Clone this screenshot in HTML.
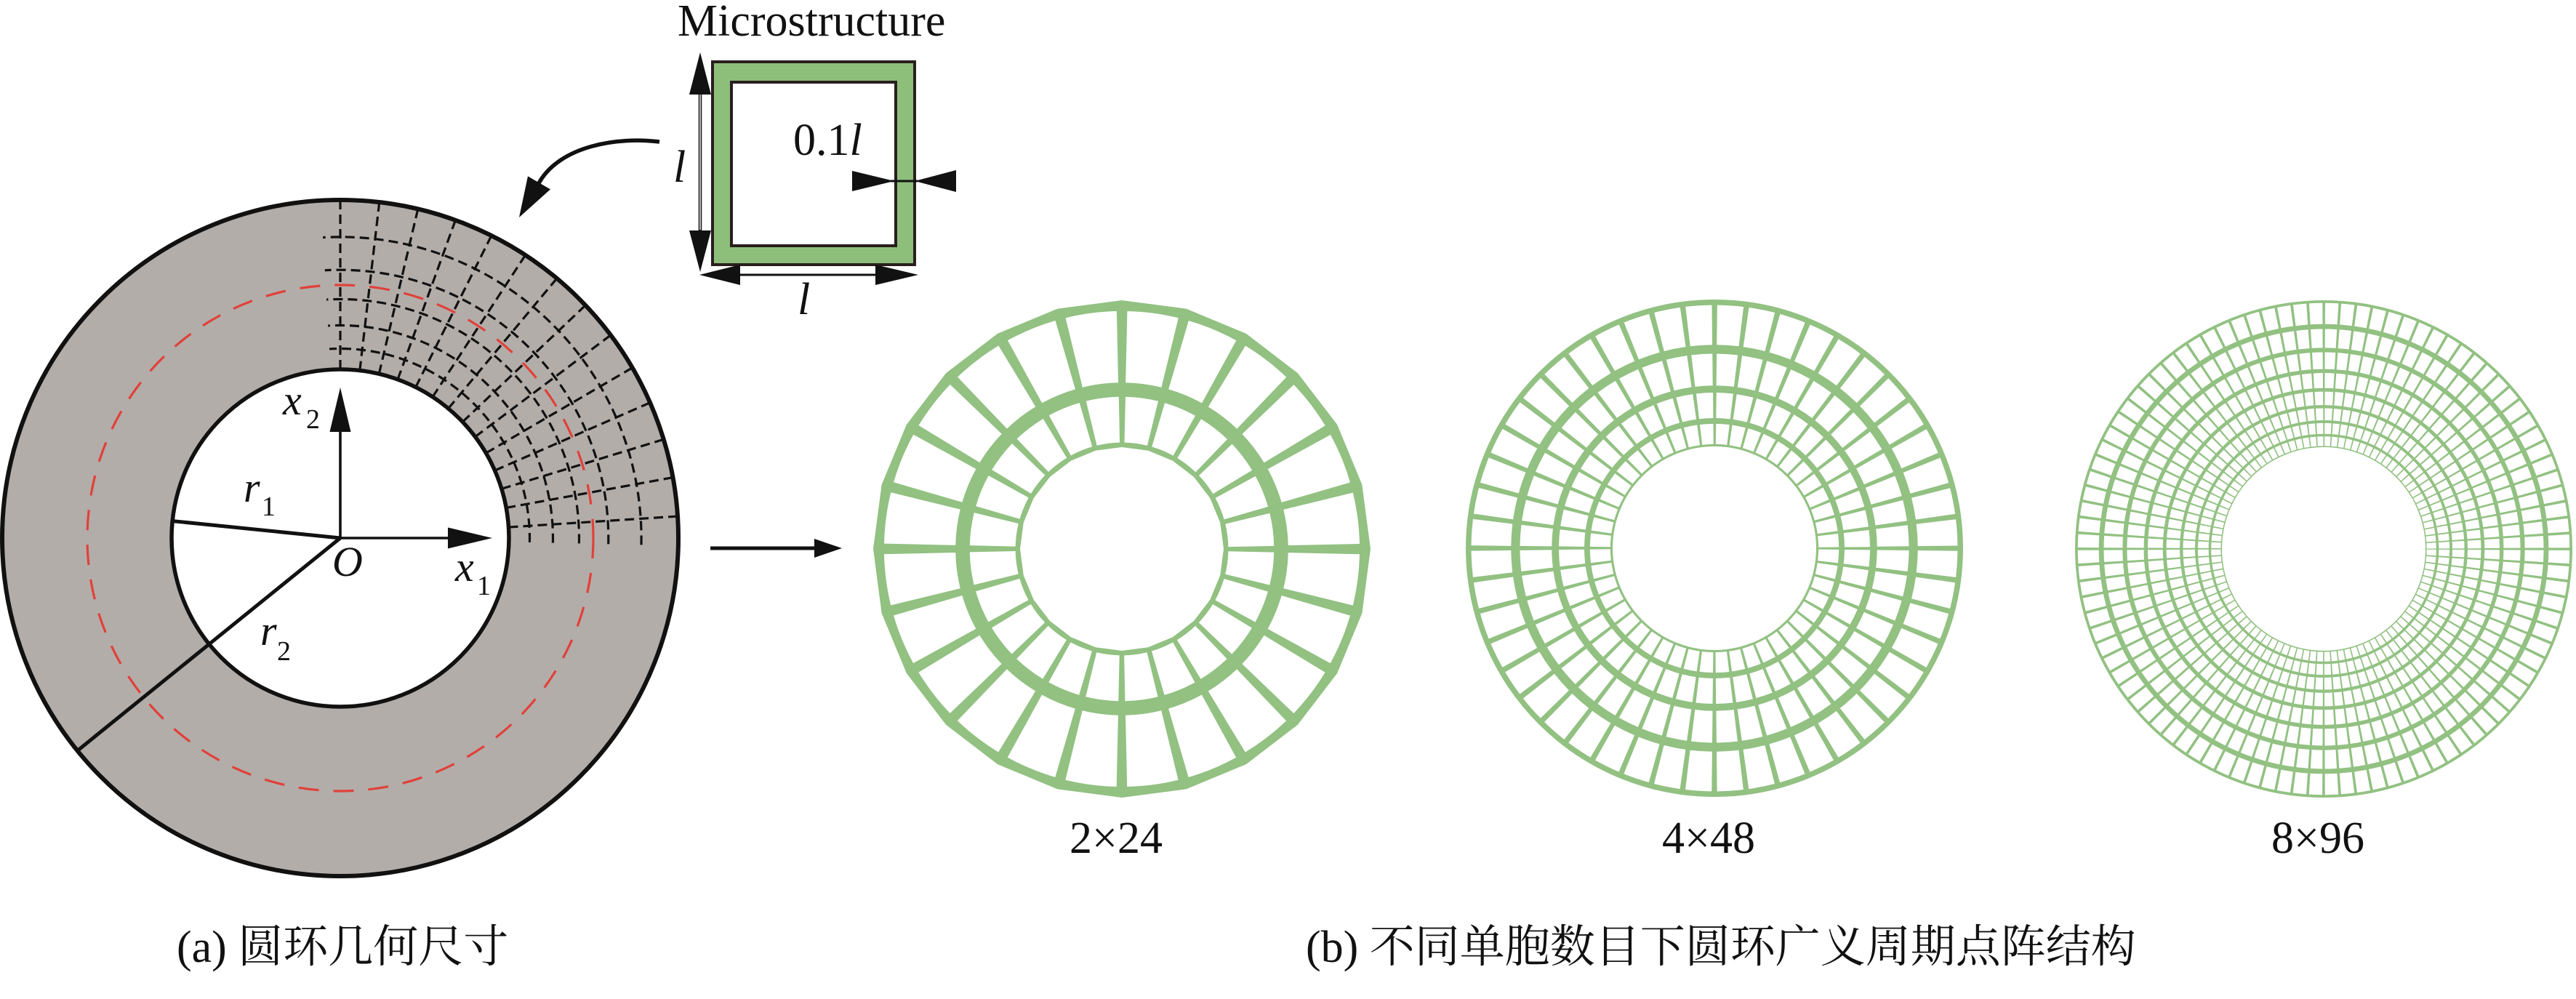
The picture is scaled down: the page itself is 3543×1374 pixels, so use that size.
<!DOCTYPE html>
<html>
<head>
<meta charset="utf-8">
<style>
html,body{margin:0;padding:0;background:#fff;}
svg{display:block;}
.t{font-family:"Liberation Serif","Noto Serif CJK SC",serif;fill:#111;}
.i{font-family:"Liberation Serif",serif;font-style:italic;fill:#111;}
</style>
</head>
<body>
<svg xmlns="http://www.w3.org/2000/svg" width="3543" height="1374" viewBox="0 0 3543 1374">
<rect width="3543" height="1374" fill="#fff"/>

<!-- ===== (a) annulus ===== -->
<circle cx="468" cy="740" r="465" fill="#b3ada9"/>
<circle cx="468" cy="740" r="232" fill="#fff"/>

<!-- dashed log-polar grid -->
<g fill="none" stroke="#111" stroke-width="3.2" stroke-dasharray="13 7">
<path d="M728.43 745.91 A260.5 260.5 0 0 0 453.00 479.93"/>
<path d="M760.42 746.64 A292.5 292.5 0 0 0 451.16 447.98"/>
<path d="M796.42 747.45 A328.5 328.5 0 0 0 449.09 412.04"/>
<path d="M836.71 748.37 A368.8 368.8 0 0 0 446.77 371.81"/>
<path d="M881.99 749.40 A414.1 414.1 0 0 0 444.16 326.59"/>
<path d="M468 508 L468 275"/>
<path d="M494.83 509.56 L521.77 278.12"/>
<path d="M521.29 514.20 L574.81 287.43"/>
<path d="M547.04 521.88 L626.41 302.82"/>
<path d="M571.74 532.48 L675.92 324.07"/>
<path d="M595.04 545.87 L722.62 350.91"/>
<path d="M616.61 561.85 L765.87 382.93"/>
<path d="M636.26 580.27 L805.24 419.85"/>
<path d="M653.57 600.75 L839.93 460.91"/>
<path d="M668.42 623.15 L869.71 505.79"/>
<path d="M680.59 647.10 L894.10 553.80"/>
<path d="M689.91 672.31 L912.77 604.34"/>
<path d="M696.24 698.43 L925.47 656.67"/>
<path d="M699.52 725.09 L932.04 710.12"/>
</g>

<!-- red dashed circle -->
<circle cx="468" cy="740" r="348" fill="none" stroke="#e0413a" stroke-width="3.2" stroke-dasharray="28 20"/>

<!-- circle outlines -->
<circle cx="468" cy="740" r="465" fill="none" stroke="#111" stroke-width="6"/>
<circle cx="468" cy="740" r="232" fill="none" stroke="#111" stroke-width="5.5"/>

<!-- radii -->
<line x1="468" y1="740" x2="237.2" y2="716.6" stroke="#111" stroke-width="5"/>
<line x1="468" y1="740" x2="106.6" y2="1032.4" stroke="#111" stroke-width="5"/>

<!-- axes -->
<line x1="468" y1="740" x2="468" y2="590" stroke="#111" stroke-width="3.6"/>
<polygon points="468,533 453.5,594 482.5,594" fill="#111"/>
<line x1="468" y1="740" x2="620" y2="740" stroke="#111" stroke-width="3.6"/>
<polygon points="677,740 616,725.5 616,754.5" fill="#111"/>

<!-- labels (a) -->
<text class="i" font-family="Liberation Serif, serif" font-style="italic" x="389" y="570" font-size="58">x</text>
<text class="t" font-family="Liberation Serif, serif" x="421" y="589" font-size="38">2</text>
<text class="i" font-family="Liberation Serif, serif" font-style="italic" x="335" y="690" font-size="58">r</text>
<text class="t" font-family="Liberation Serif, serif" x="360" y="709" font-size="38">1</text>
<text class="i" font-family="Liberation Serif, serif" font-style="italic" x="358" y="887" font-size="58">r</text>
<text class="t" font-family="Liberation Serif, serif" x="381" y="908" font-size="38">2</text>
<text class="i" font-family="Liberation Serif, serif" font-style="italic" x="457" y="792" font-size="58">O</text>
<text class="i" font-family="Liberation Serif, serif" font-style="italic" x="626" y="799" font-size="58">x</text>
<text class="t" font-family="Liberation Serif, serif" x="656" y="818" font-size="38">1</text>

<!-- curved arrow -->
<path d="M907 195 C850 188, 770 200, 741 252" fill="none" stroke="#111" stroke-width="5.5"/>
<polygon points="714,299 726,242.4 757,260.4" fill="#111"/>

<!-- ===== Microstructure ===== -->
<text class="t" font-family="Liberation Serif, serif" x="932" y="49" font-size="62">Microstructure</text>
<rect x="980" y="85" width="278" height="279" fill="#8dbf7a" stroke="#2a1e1e" stroke-width="4"/>
<rect x="1006" y="113" width="226" height="225" fill="#fff" stroke="#2a1e1e" stroke-width="4"/>

<!-- vertical dimension -->
<line x1="963" y1="120" x2="963" y2="325" stroke="#111" stroke-width="4.5"/>
<line x1="963" y1="130" x2="963" y2="316" stroke="#fff" stroke-width="1.4"/>
<polygon points="963,72 948,130 978,130" fill="#111"/>
<polygon points="963,374 948,317 978,317" fill="#111"/>
<text class="i" font-family="Liberation Serif, serif" font-style="italic" x="926" y="250" font-size="62">l</text>

<!-- horizontal dimension -->
<line x1="1010" y1="378" x2="1212" y2="378" stroke="#111" stroke-width="3"/>
<polygon points="962,378 1018,364 1018,392" fill="#111"/>
<polygon points="1263,378 1204,364 1204,392" fill="#111"/>
<text class="i" font-family="Liberation Serif, serif" font-style="italic" x="1097" y="432" font-size="62">l</text>

<!-- 0.1l -->
<text x="1091" y="213" font-size="62" font-family="Liberation Serif, serif" fill="#111"><tspan>0.1</tspan><tspan font-style="italic">l</tspan></text>
<line x1="1225" y1="249" x2="1262" y2="249" stroke="#111" stroke-width="3"/>
<polygon points="1230,249 1172,235 1172,263" fill="#111"/>
<polygon points="1258,249 1315,234 1315,264" fill="#111"/>

<!-- arrow between panels -->
<line x1="977" y1="754" x2="1125" y2="754" stroke="#111" stroke-width="5"/>
<polygon points="1158,754 1120,741 1120,767" fill="#111"/>

<!-- ===== (b) lattices ===== -->
<!-- 2x24 -->
<g transform="translate(1543 755)">
<path fill="#92c182" fill-rule="evenodd" d="M342 0 L330.35 88.52 L296.18 171 L241.83 241.83 L171 296.18 L88.52 330.35 L0 342 L-88.52 330.35 L-171 296.18 L-241.83 241.83 L-296.18 171 L-330.35 88.52 L-342 0 L-330.35 -88.52 L-296.18 -171 L-241.83 -241.83 L-171 -296.18 L-88.52 -330.35 L0 -342 L88.52 -330.35 L171 -296.18 L241.83 -241.83 L296.18 -171 L330.35 -88.52 Z M140 0 L135.23 36.23 L121.24 70 L98.99 98.99 L70 121.24 L36.23 135.23 L0 140 L-36.23 135.23 L-70 121.24 L-98.99 98.99 L-121.24 70 L-135.23 36.23 L-140 0 L-135.23 -36.23 L-121.24 -70 L-98.99 -98.99 L-70 -121.24 L-36.23 -135.23 L0 -140 L36.23 -135.23 L70 -121.24 L98.99 -98.99 L121.24 -70 L135.23 -36.23 Z"/>
<g fill="none" stroke="#fff">
<circle cx="0" cy="0" r="177.827" stroke-width="62.865" stroke-dasharray="38.641 7.914" stroke-dashoffset="42.598"/>
<circle cx="0" cy="0" r="277.937" stroke-width="98.253" stroke-dasharray="60.394 12.370" stroke-dashoffset="66.579"/>
</g>
</g>

<!-- 4x48 -->
<g transform="translate(2358 754)">
<circle cx="0" cy="0" r="241" fill="none" stroke="#92c182" stroke-width="202"/>
<g fill="none" stroke="#fff">
<circle cx="0" cy="0" r="157.161" stroke-width="28.000" stroke-dasharray="17.0750 3.4973" stroke-dashoffset="18.8237"/>
<circle cx="0" cy="0" r="196.481" stroke-width="35.005" stroke-dasharray="21.3470 4.3723" stroke-dashoffset="23.5332"/>
<circle cx="0" cy="0" r="245.638" stroke-width="43.763" stroke-dasharray="26.6878 5.4662" stroke-dashoffset="29.4209"/>
<circle cx="0" cy="0" r="307.093" stroke-width="54.711" stroke-dasharray="33.3647 6.8337" stroke-dashoffset="36.7815"/>
</g>
</g>

<!-- 8x96 -->
<g transform="translate(3196 755)">
<circle cx="0" cy="0" r="241" fill="none" stroke="#92c182" stroke-width="202"/>
<g fill="none" stroke="#fff">
<circle cx="0" cy="0" r="148.186" stroke-width="13.227" stroke-dasharray="8.0500 1.6488" stroke-dashoffset="8.8743"/>
<circle cx="0" cy="0" r="165.689" stroke-width="14.789" stroke-dasharray="9.0008 1.8435" stroke-dashoffset="9.9226"/>
<circle cx="0" cy="0" r="185.259" stroke-width="16.536" stroke-dasharray="10.0639 2.0613" stroke-dashoffset="11.0945"/>
<circle cx="0" cy="0" r="207.142" stroke-width="18.489" stroke-dasharray="11.2526 2.3048" stroke-dashoffset="12.4050"/>
<circle cx="0" cy="0" r="231.608" stroke-width="20.672" stroke-dasharray="12.5817 2.5770" stroke-dashoffset="13.8702"/>
<circle cx="0" cy="0" r="258.965" stroke-width="23.116" stroke-dasharray="14.0678 2.8814" stroke-dashoffset="15.5085"/>
<circle cx="0" cy="0" r="289.554" stroke-width="25.845" stroke-dasharray="15.7295 3.2217" stroke-dashoffset="17.3404"/>
<circle cx="0" cy="0" r="323.755" stroke-width="28.896" stroke-dasharray="17.5875 3.6022" stroke-dashoffset="19.3886"/>
</g>
</g>

<!-- lattice labels -->
<text class="t" font-family="Liberation Serif, serif" x="1535" y="1173" font-size="62" text-anchor="middle">2×24</text>
<text class="t" font-family="Liberation Serif, serif" x="2350" y="1173" font-size="62" text-anchor="middle">4×48</text>
<text class="t" font-family="Liberation Serif, serif" x="3188" y="1173" font-size="62" text-anchor="middle">8×96</text>

<!-- captions -->
<text class="t" font-family="Liberation Serif, Noto Serif CJK SC, serif" x="243" y="1323" font-size="62">(a) 圆环几何尺寸</text>
<text class="t" font-family="Liberation Serif, Noto Serif CJK SC, serif" x="1796" y="1323" font-size="62">(b) 不同单胞数目下圆环广义周期点阵结构</text>
</svg>
</body>
</html>
